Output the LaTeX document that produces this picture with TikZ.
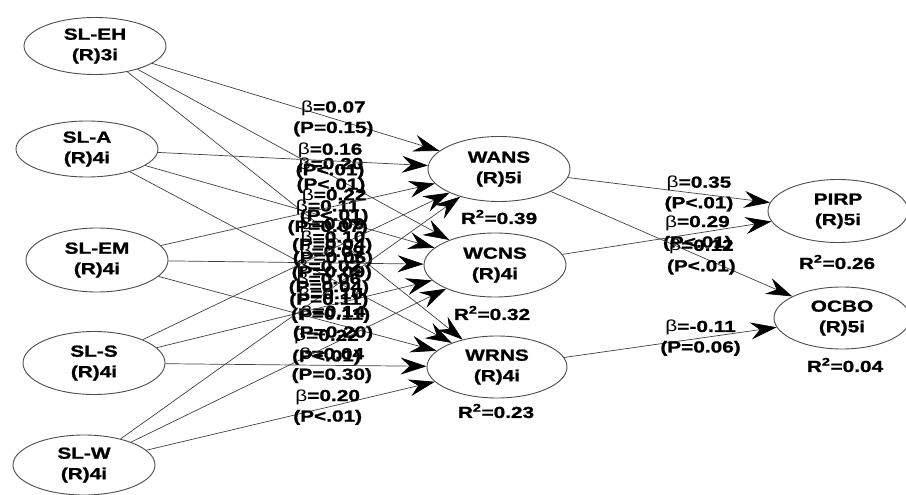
\documentclass[tikz,border=0pt]{standalone}
\usepackage{fontspec}
\setmainfont{Liberation Sans}[FakeStretch=1.3, BoldFeatures={FakeBold=1.2}]
\usetikzlibrary{arrows.meta,shapes.geometric}

% thin beta as in the path coefficients
\newcommand\bt{{\mdseries β}}
% path from one construct to another, with its coefficient label
\newcommand\semlink[5]{%
  \draw[link] (#1) -- (#2);
  \path (#1.center) -- (#2.center) node[coef,pos=0.59] (#3) {\bt=#4\\(P#5)};
}

\begin{document}
\begin{tikzpicture}[x=1pt,y=-1pt,
  txt/.style={font=\bfseries\fontsize{16}{20.5}\selectfont},
  lat/.style={ellipse, draw=black!70, line width=0.9pt, inner sep=0pt,
              align=center, txt, minimum width=142pt, minimum height=62pt},
  link/.style={draw=black!75, line width=0.7pt,
               -{Stealth[length=26pt,width=17pt,inset=9pt,black]}},
  coef/.style={align=center, inner sep=0pt, txt},
  rsq/.style={inner sep=0pt, txt}]
\useasboundingbox (0,0) rectangle (906,495);

% exogenous constructs
\node[lat, minimum height=57pt] (eh) at (95,46)  {SL-EH\\(R)3i};
\node[lat, minimum height=56pt] (a)  at (87,149) {SL-A\\(R)4i};
\node[lat, minimum height=64pt] (em) at (97,260) {SL-EM\\(R)4i};
\node[lat, minimum height=63pt] (s)  at (94,363) {SL-S\\(R)4i};
\node[lat, minimum height=60pt] (w)  at (84,465) {SL-W\\(R)4i};

% mediators
\node[lat, minimum height=65pt] (wans) at (499,169) {WANS\\(R)5i};
\node[lat, minimum height=64pt] (wcns) at (495,265) {WCNS\\(R)4i};
\node[lat, minimum height=62pt, minimum width=140pt] (wrns) at (497,367) {WRNS\\(R)4i};

% outcomes
\node[lat, minimum height=63pt, minimum width=140pt] (pirp) at (838,211) {PIRP\\(R)5i};
\node[lat, minimum height=62pt, minimum width=136pt] (ocbo) at (842,318) {OCBO\\(R)5i};

% explained variance
\node[rsq] (r1) at (499,217) {R\textsuperscript{2}=0.39};
\node[rsq] (r2) at (492,313) {R\textsuperscript{2}=0.32};
\node[rsq] (r3) at (496,411) {R\textsuperscript{2}=0.23};
\node[rsq] (r4) at (837,262) {R\textsuperscript{2}=0.26};
\node[rsq] (r5) at (845,365) {R\textsuperscript{2}=0.04};

% structural paths
\semlink{eh}{wans}{c1}{0.07}{=0.15}
\semlink{eh}{wcns}{c2}{0.20}{<.01}
\semlink{eh}{wrns}{c3}{0.09}{=0.04}
\semlink{a}{wans}{c4}{0.16}{<.01}
\semlink{a}{wcns}{c5}{0.11}{=0.07}
\semlink{a}{wrns}{c6}{0.02}{=0.04}
\semlink{em}{wans}{c7}{0.22}{<.01}
\semlink{em}{wcns}{c8}{0.09}{=0.09}
\semlink{em}{wrns}{c9}{0.14}{=0.20}
\semlink{s}{wans}{c10}{0.10}{=0.06}
\semlink{s}{wcns}{c11}{0.10}{=0.11}
\semlink{s}{wrns}{c12}{0.04}{=0.30}
\semlink{w}{wans}{c13}{0.06}{=0.11}
\semlink{w}{wcns}{c14}{0.22}{<.01}
\semlink{w}{wrns}{c15}{0.20}{<.01}

\semlink{wans}{pirp}{c16}{0.35}{<.01}
\semlink{wcns}{pirp}{c17}{0.29}{<.01}
\semlink{wans}{ocbo}{c18}{0.12}{<.01}
\semlink{wrns}{ocbo}{c19}{-0.11}{=0.06}
\end{tikzpicture}
\end{document}
